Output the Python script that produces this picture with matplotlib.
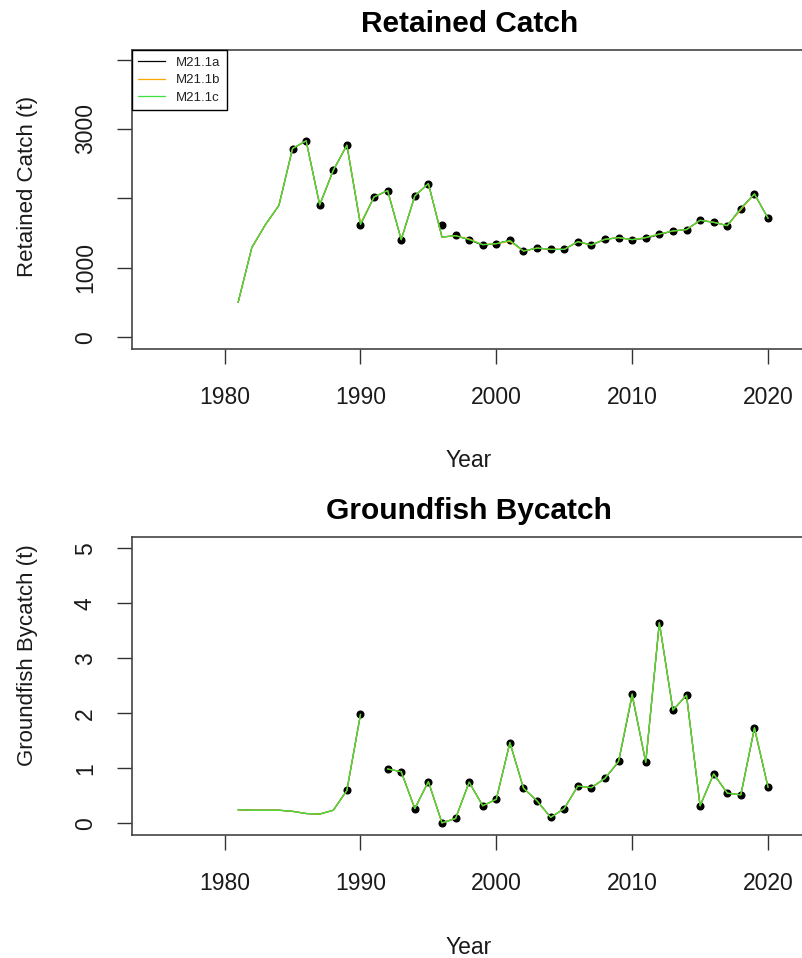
import numpy as np
import matplotlib
matplotlib.use('Agg')
import matplotlib.pyplot as plt

plt.rcParams['font.family'] = ['Liberation Sans', 'DejaVu Sans']

#%% data
years = list(range(1981, 2021))

# retained catch, observed (1985-2020)
catch_obs_years = list(range(1985, 2021))
catch_obs = [2718, 2829, 1905, 2405, 2766, 1622, 2020, 2112, 1405, 2035,
             2213, 1612, 1467, 1405, 1333, 1347, 1395, 1241, 1284, 1265,
             1265, 1376, 1328, 1410, 1434, 1405, 1434, 1486, 1530, 1550,
             1684, 1655, 1607, 1853, 2064, 1713]

# model fits 1981-2020
catch_a = [505, 1290, 1620, 1900, 2718, 2829, 1905, 2405, 2766, 1622,
           2020, 2112, 1405, 2035, 2213, 1443, 1462, 1405, 1325, 1347,
           1395, 1241, 1284, 1265, 1265, 1376, 1328, 1410, 1434, 1405,
           1425, 1480, 1530, 1550, 1684, 1655, 1607, 1853, 2064, 1713]
catch_b = [505, 1290, 1620, 1900, 2718, 2829, 1905, 2405, 2766, 1640,
           2020, 2112, 1405, 2035, 2213, 1443, 1462, 1415, 1333, 1347,
           1380, 1241, 1284, 1265, 1265, 1376, 1328, 1410, 1434, 1405,
           1434, 1486, 1530, 1550, 1684, 1655, 1607, 1835, 2064, 1713]
catch_c = [505, 1290, 1620, 1900, 2718, 2829, 1905, 2405, 2766, 1622,
           2020, 2112, 1405, 2035, 2213, 1443, 1462, 1405, 1333, 1347,
           1395, 1241, 1284, 1265, 1265, 1376, 1328, 1410, 1434, 1405,
           1434, 1486, 1530, 1550, 1684, 1655, 1607, 1853, 2064, 1713]

# groundfish bycatch, observed (no 1991)
bycatch_obs_years = [1989, 1990] + list(range(1992, 2021))
bycatch_obs = [0.60, 1.98, 0.99, 0.94, 0.27, 0.76, 0.01, 0.09, 0.75, 0.32,
               0.44, 1.47, 0.64, 0.41, 0.11, 0.27, 0.68, 0.65, 0.82, 1.13,
               2.35, 1.11, 3.65, 2.06, 2.33, 0.32, 0.90, 0.55, 0.52, 1.74,
               0.66]

nan = np.nan
bycatch_a = [0.25, 0.24, 0.24, 0.24, 0.22, 0.18, 0.17, 0.24, 0.60, 1.98,
             nan, 0.99, 0.94, 0.27, 0.76, 0.01, 0.09, 0.75, 0.32, 0.44,
             1.47, 0.64, 0.41, 0.11, 0.27, 0.68, 0.65, 0.82, 1.12, 2.33,
             1.11, 3.65, 2.06, 2.33, 0.32, 0.90, 0.55, 0.52, 1.73, 0.66]
bycatch_b = [0.25, 0.24, 0.24, 0.24, 0.22, 0.18, 0.17, 0.24, 0.60, 1.98,
             nan, 0.99, 0.94, 0.27, 0.76, 0.01, 0.09, 0.75, 0.32, 0.44,
             1.47, 0.64, 0.41, 0.11, 0.27, 0.68, 0.65, 0.82, 1.13, 2.35,
             1.11, 3.65, 2.06, 2.33, 0.32, 0.90, 0.55, 0.52, 1.74, 0.66]
bycatch_c = [0.25, 0.24, 0.24, 0.24, 0.22, 0.18, 0.17, 0.24, 0.60, 1.98,
             nan, 0.99, 0.94, 0.27, 0.76, 0.01, 0.09, 0.75, 0.32, 0.44,
             1.47, 0.64, 0.41, 0.11, 0.27, 0.68, 0.65, 0.82, 1.13, 2.35,
             1.11, 3.65, 2.06, 2.33, 0.32, 0.90, 0.55, 0.52, 1.74, 0.66]

models = ['M21.1a', 'M21.1b', 'M21.1c']
model_colors = ['black', '#ffa500', '#3fe03f']

x_ticks = [1980, 1990, 2000, 2010, 2020]
catch_ticks = [0, 1000, 2000, 3000, 4000]
catch_ticklabels = ['0', '1000', '', '3000', '']
bycatch_ticks = [0, 1, 2, 3, 4, 5]
bycatch_ticklabels = ['0', '1', '2', '3', '4', '5']

#%% plot
fig = plt.figure(figsize=(8.03, 9.58), dpi=100)
W, H = 803, 958

def make_ax(top_px, bottom_px):
    left, right = 131.7, 806.6
    return fig.add_axes([left / W, 1 - bottom_px / H, (right - left) / W,
                         (bottom_px - top_px) / H])

ax1 = make_ax(50, 348.5)
ax2 = make_ax(536.7, 835)

def style(ax, title, ylabel, yticks, yticklabels, ylab_y):
    ax.set_xlim(1973.16, 2022.84)
    ax.set_xticks(x_ticks)
    ax.set_xticklabels([str(t) for t in x_ticks])
    ax.set_yticks(yticks)
    ax.set_yticklabels(yticklabels, rotation=90, va='center')
    ax.tick_params(axis='both', length=11, width=1, color='#333333',
                   labelsize=16.5, labelcolor='#1a1a1a')
    ax.tick_params(axis='x', pad=16)
    ax.tick_params(axis='y', pad=14)
    for s in ax.spines.values():
        s.set_color('#444444')
        s.set_linewidth(1.2)
    ax.set_title(title, fontsize=21.5, fontweight='bold', pad=13)
    ax.set_xlabel('Year', fontsize=16.5, color='#1a1a1a')
    ax.xaxis.label.set_va('center')
    ax.xaxis.set_label_coords(0.5, -0.376)
    ax.set_ylabel(ylabel, fontsize=16, color='#1a1a1a')
    ax.yaxis.label.set_va('center')
    ax.yaxis.set_label_coords(-0.155, ylab_y)

# retained catch
ax1.plot(catch_obs_years, catch_obs, 'o', color='black', markersize=4.8, zorder=2)
for name, col, vals in zip(models, model_colors, [catch_a, catch_b, catch_c]):
    ax1.plot(years, vals, color=col, lw=0.9, label=name, zorder=3)
ax1.set_ylim(-163, 4137)
style(ax1, 'Retained Catch', 'Retained Catch (t)', catch_ticks,
      catch_ticklabels, 0.544)
leg = ax1.legend(loc='upper left', bbox_to_anchor=(0, 1), borderaxespad=0,
                 fontsize=9.5, frameon=True, fancybox=False, framealpha=1,
                 edgecolor='black', handlelength=2.0, handletextpad=0.85,
                 labelspacing=0.4, borderpad=0.5)
leg.get_frame().set_linewidth(1.0)
for t in leg.get_texts():
    t.set_color('#222222')

# groundfish bycatch
ax2.plot(bycatch_obs_years, bycatch_obs, 'o', color='black', markersize=4.8, zorder=2)
for name, col, vals in zip(models, model_colors, [bycatch_a, bycatch_b, bycatch_c]):
    ax2.plot(years, vals, color=col, lw=0.9, label=name, zorder=3)
ax2.set_ylim(-0.21, 5.21)
style(ax2, 'Groundfish Bycatch', 'Groundfish Bycatch (t)', bycatch_ticks,
      bycatch_ticklabels, 0.603)

fig.savefig('out.png', dpi=100)
